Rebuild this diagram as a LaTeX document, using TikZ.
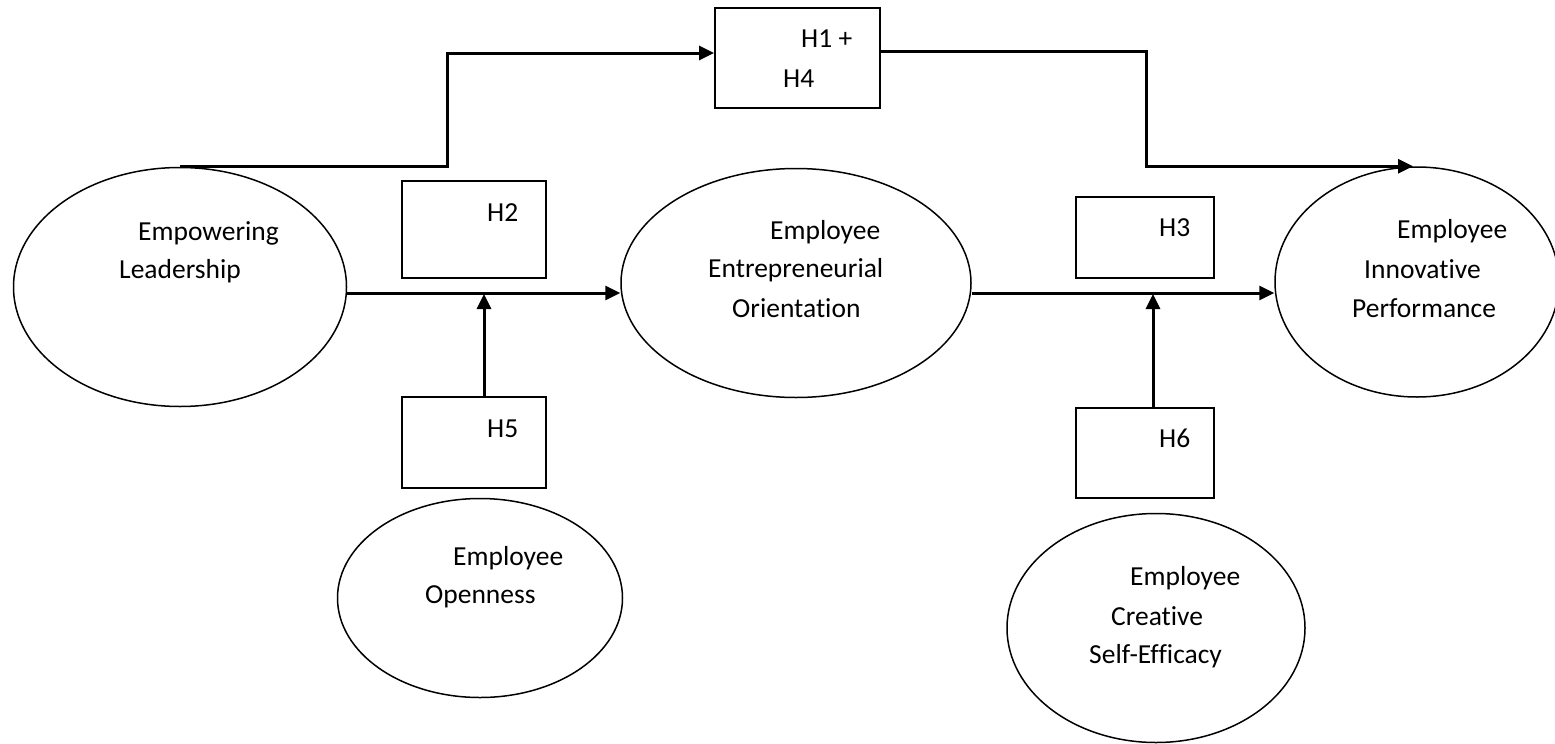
\documentclass[tikz,border=0pt]{standalone}
\usepackage{fontspec}
\setmainfont{Carlito}[Ligatures=NoCommon]
\usetikzlibrary{arrows.meta,shapes.geometric}
\begin{document}
\begin{tikzpicture}[x=1pt,y=-1pt,
  oval/.style={draw,ellipse,line width=1.5pt,inner sep=0pt},
  hbox/.style={draw,rectangle,line width=1.8pt,inner sep=0pt},
  lbl/.style={anchor=base west,inner sep=0pt,font=\fontsize{27.5}{33}\selectfont},
  conn/.style={line width=3pt,-{Triangle[length=15pt,width=14pt]}},
  plain/.style={line width=3pt}]
\useasboundingbox (0,0) rectangle (1555,744);
% ellipses
\node[oval,minimum width=333pt,minimum height=239pt] (EL) at (180,287) {};
\node[oval,minimum width=350pt,minimum height=229pt] (EEO) at (796,283) {};
\node[oval,minimum width=284pt,minimum height=230pt] (IP) at (1417,282) {};
\node[oval,minimum width=285pt,minimum height=199pt] (EO) at (480,598) {};
\node[oval,minimum width=298pt,minimum height=229pt] (CSE) at (1156,628) {};
% boxes
\node[hbox,minimum width=165pt,minimum height=100pt] (H14) at (797.5,58) {};
\node[hbox,minimum width=144pt,minimum height=97pt] (H2) at (474,229.5) {};
\node[hbox,minimum width=144pt,minimum height=91pt] (H5) at (474,442.5) {};
\node[hbox,minimum width=138pt,minimum height=81pt] (H3) at (1145,237.5) {};
\node[hbox,minimum width=138pt,minimum height=90pt] (H6) at (1145,453) {};
% labels
\node[lbl] (tEL1) at (138,240) {Empowering};
\node[lbl] (tEL2) at (119,278) {Leadership};
\node[lbl] (tEEO1) at (770,239) {Employee};
\node[lbl] (tEEO2) at (708,277) {Entrepreneurial};
\node[lbl] (tEEO3) at (732,317) {Orientation};
\node[lbl] (tIP1) at (1397,238) {Employee};
\node[lbl] (tIP2) at (1364,278) {Innovative};
\node[lbl] (tIP3) at (1352,317) {Performance};
\node[lbl] (tEO1) at (453,565) {Employee};
\node[lbl] (tEO2) at (425,603) {Openness};
\node[lbl] (tC1) at (1130,585) {Employee};
\node[lbl] (tC2) at (1111,625) {Creative};
\node[lbl] (tC3) at (1089,663) {Self-Efficacy};
\node[lbl] (tH14a) at (801,47) {H1 +};
\node[lbl] (tH14b) at (783,87) {H4};
\node[lbl] (tH2) at (487,221) {H2};
\node[lbl] (tH5) at (487,437) {H5};
\node[lbl] (tH3) at (1159,236) {H3};
\node[lbl] (tH6) at (1159,447) {H6};
% helper coordinates
\coordinate (b1) at (447,110);
\coordinate (b2) at (1146,110);
\coordinate (j1) at (484,294);
\coordinate (j2) at (1153,294);
% connectors
\draw[conn] (EL.north) -| (b1) |- ([yshift=5pt]H14.west);
\draw[conn] ([yshift=7pt]H14.east) -| (b2) |- ([xshift=-4pt]IP.north);
\draw[conn] ([yshift=-6pt]EL.east) -- ([yshift=-10pt]EEO.west);
\draw[conn] ([yshift=-10pt]EEO.east) -- ([yshift=-11pt]IP.west);
\draw[conn] ([xshift=10pt]H5.north) -- (j1);
\draw[conn] ([xshift=8pt]H6.north) -- (j2);
\end{tikzpicture}
\end{document}
